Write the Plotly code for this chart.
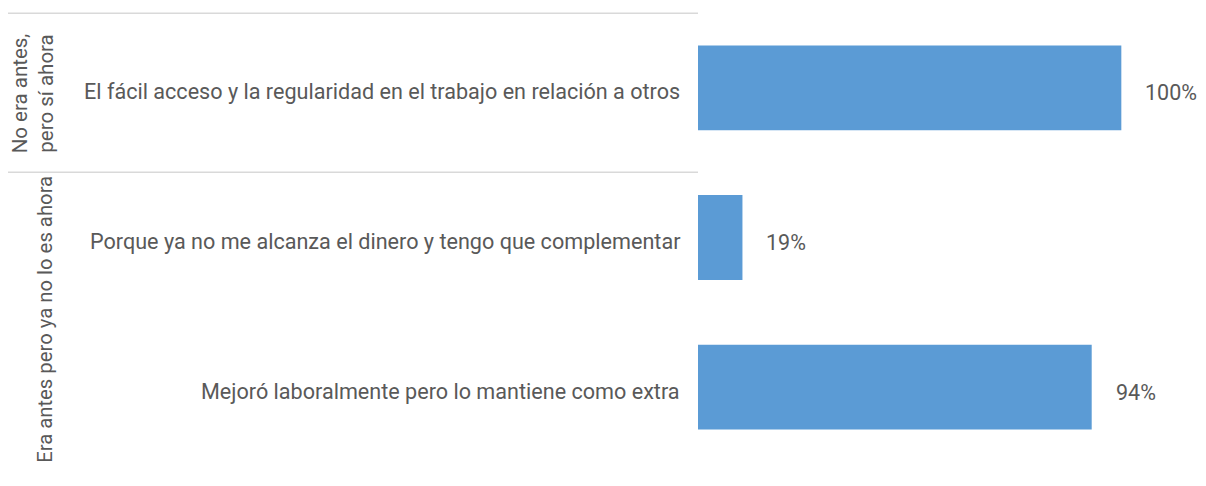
import plotly.graph_objects as go

categories = [
    "El fácil acceso y la regularidad en el trabajo en relación a otros",
    "Porque ya no me alcanza el dinero y tengo que complementar",
    "Mejoró laboralmente pero lo mantiene como extra",
]
bar_values = [100, 10.5, 93]
value_labels = ["100%", "19%", "94%"]
group_labels = ["No era antes,<br>pero sí ahora", "Era antes pero ya no lo es ahora"]

OFF = 8  # page body margin
W, H = 1198, 478
L, R, T, B = 690, 0, 4.5, 23.5
pw, ph = W - L - R, H - T - B
TXT = "#595959"
FONT = "Roboto"

def px_x(sx):
    return (sx - OFF - L) / pw

def px_y(sy):
    return 1 - (sy - OFF - T) / ph

fig = go.Figure(go.Bar(
    x=bar_values, y=categories, orientation="h",
    marker=dict(color="#5B9BD5", line=dict(width=0)),
    width=0.567, hoverinfo="skip",
))

for v, c, t in zip(bar_values, categories, value_labels):
    fig.add_annotation(x=v, y=c, text=t, showarrow=False, xanchor="left",
                       xshift=22, yshift=-5, font=dict(size=21.5, color=TXT, family=FONT))

# category labels, placed on the category axis positions
for c in categories:
    fig.add_annotation(x=0, y=c, text=c, showarrow=False, xanchor="right",
                       xshift=-16, yshift=-4, font=dict(size=21.6, color=TXT, family=FONT))

fig.add_annotation(x=px_x(33), y=px_y(93), xref="paper", yref="paper",
                   text=group_labels[0], textangle=-90, showarrow=False,
                   xanchor="center", yanchor="middle",
                   font=dict(size=20.5, color=TXT, family=FONT))
fig.add_annotation(x=px_x(45), y=px_y(320), xref="paper", yref="paper",
                   text=group_labels[1], textangle=-90, showarrow=False,
                   xanchor="center", yanchor="middle",
                   font=dict(size=20.3, color=TXT, family=FONT))

for py in (12.7, 172.2):
    fig.add_shape(type="line", xref="paper", yref="paper",
                  x0=px_x(5), x1=0, y0=px_y(py), y1=px_y(py),
                  line=dict(color="#d9d9d9", width=1.5))

fig.update_layout(
    width=W, height=H,
    margin=dict(l=L, r=R, t=T, b=B, pad=0),
    paper_bgcolor="white", plot_bgcolor="white",
    showlegend=False,
    font=dict(family=FONT, size=21.5, color=TXT),
    xaxis=dict(range=[0, 120], visible=False, showgrid=False, zeroline=False, fixedrange=True),
    yaxis=dict(autorange="reversed", showgrid=False, zeroline=False, showline=False,
               ticks="", showticklabels=False),
)

fig.write_html("out.html")
